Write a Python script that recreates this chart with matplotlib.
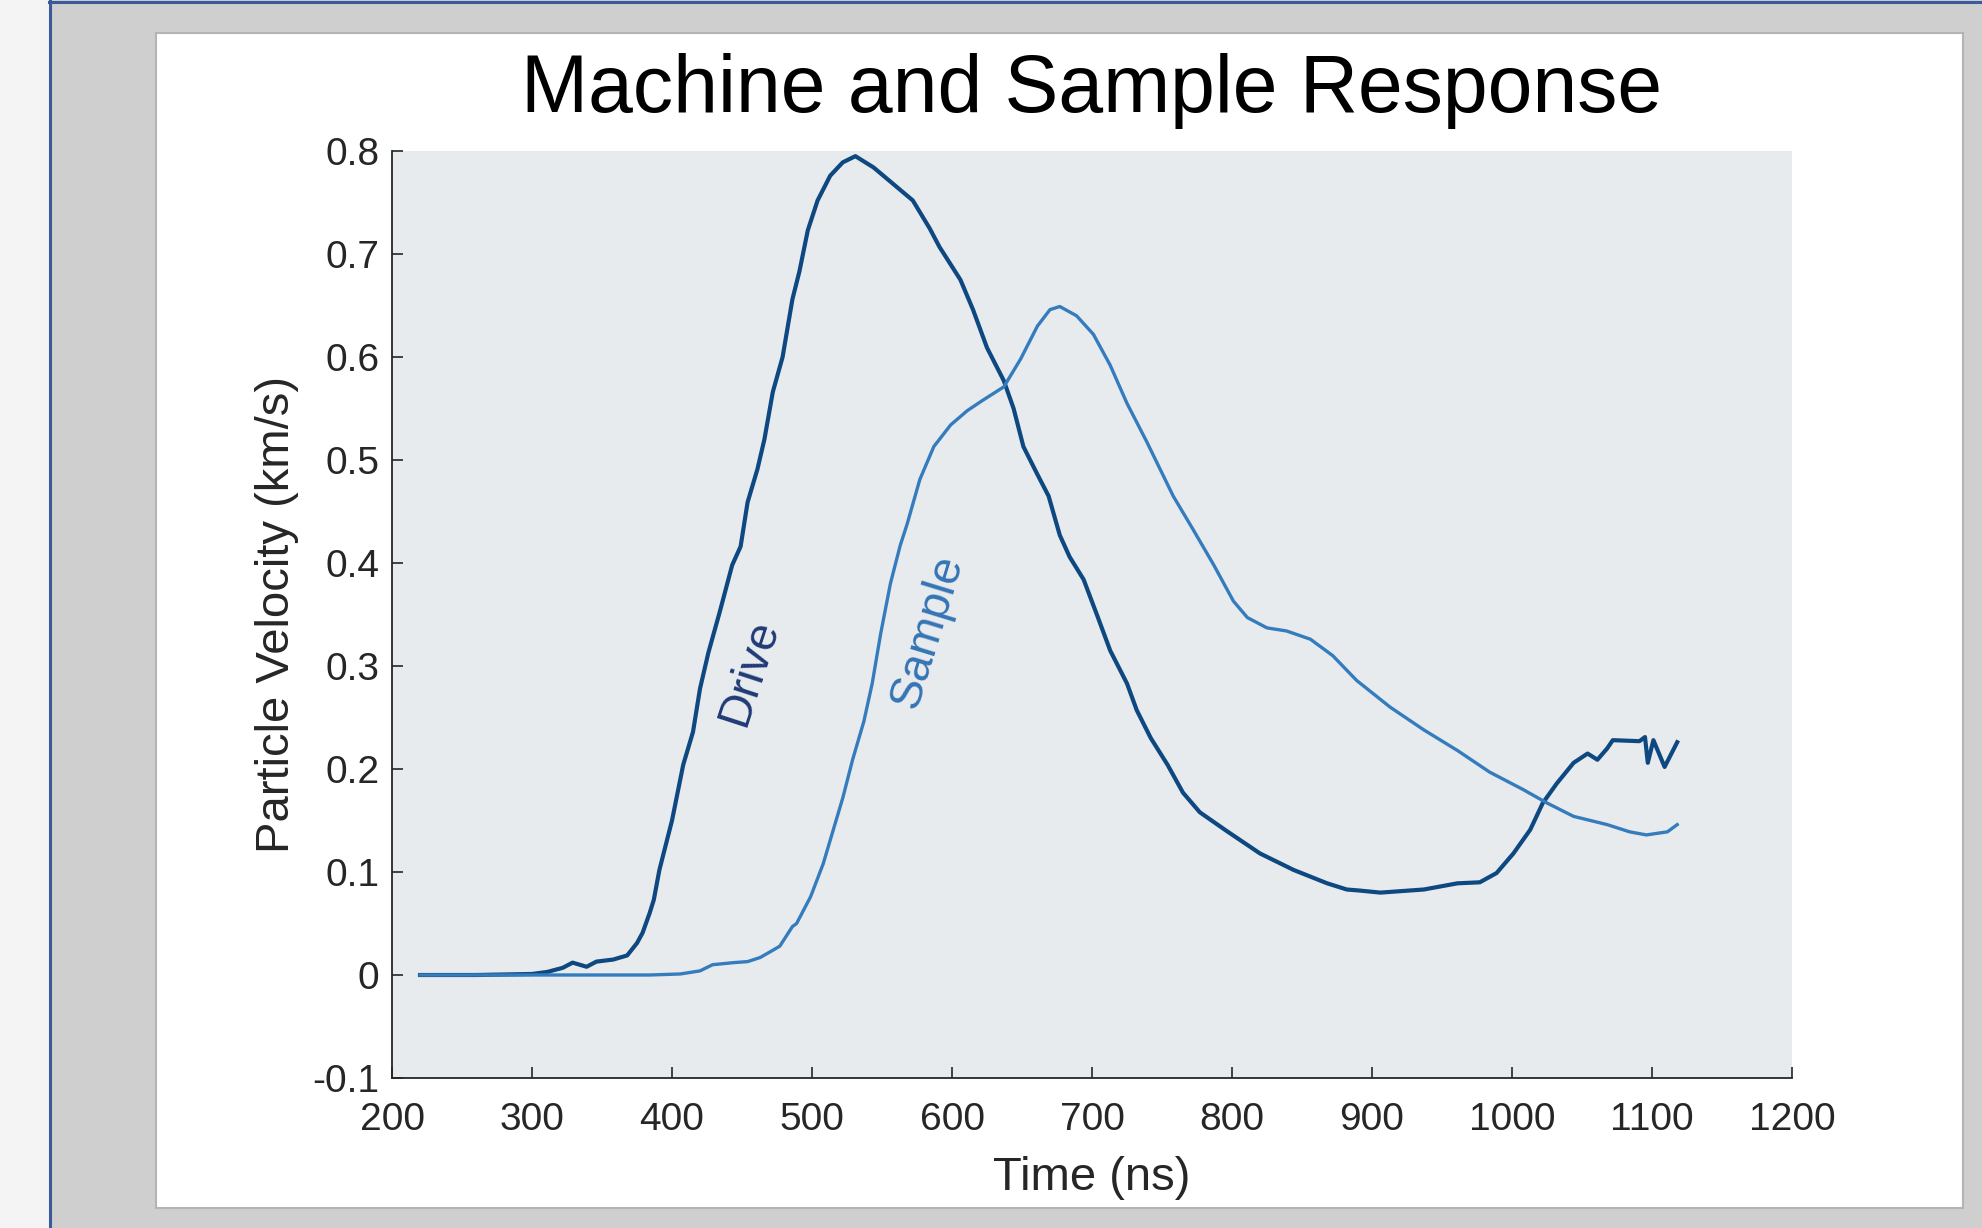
import matplotlib
matplotlib.use("Agg")
import matplotlib.pyplot as plt
from matplotlib.patches import Rectangle
from matplotlib.lines import Line2D


# --- DATA ---
# Drive (machine) response: time in ns, particle velocity in km/s
drive_t = [220, 260, 300, 311, 322, 329, 339, 346, 358, 368, 375, 379, 384,
           387, 391, 400, 408, 415, 420, 426, 434, 443, 449, 454, 461, 466,
           472, 479, 486, 491, 497, 504, 513, 522, 531, 544, 558, 572, 584,
           591, 606, 615, 625, 637, 644, 651, 661, 669, 677, 684, 694, 704,
           713, 725, 732, 742, 754, 765, 777, 796, 820, 844, 868, 882, 891,
           906, 937, 961, 977, 989, 1001, 1013, 1022, 1032, 1044, 1054, 1061,
           1068, 1072, 1091, 1095, 1097, 1101, 1109, 1118]
drive_v = [0.000, 0.000, 0.001, 0.003, 0.007, 0.012, 0.008, 0.013, 0.015,
           0.019, 0.031, 0.041, 0.060, 0.073, 0.102, 0.150, 0.204, 0.236,
           0.278, 0.313, 0.352, 0.398, 0.416, 0.459, 0.491, 0.520, 0.566,
           0.600, 0.656, 0.683, 0.723, 0.752, 0.776, 0.789, 0.795, 0.784,
           0.768, 0.752, 0.725, 0.707, 0.675, 0.646, 0.609, 0.577, 0.550,
           0.513, 0.486, 0.465, 0.427, 0.406, 0.384, 0.348, 0.315, 0.283,
           0.257, 0.230, 0.204, 0.177, 0.158, 0.140, 0.118, 0.102, 0.089,
           0.083, 0.082, 0.080, 0.083, 0.089, 0.090, 0.099, 0.118, 0.141,
           0.167, 0.186, 0.206, 0.215, 0.209, 0.220, 0.228, 0.227, 0.231,
           0.206, 0.228, 0.202, 0.226]

# Sample response
sample_t = [220, 300, 350, 384, 406, 420, 429, 444, 454, 463, 472, 477, 486,
            489, 499, 508, 515, 522, 529, 537, 543, 549, 556, 563, 568, 577,
            587, 599, 611, 622, 637, 649, 661, 670, 677, 689, 701, 713, 725,
            739, 758, 772, 787, 801, 811, 825, 839, 856, 872, 889, 913, 937,
            961, 984, 1008, 1025, 1044, 1068, 1084, 1096, 1111, 1118]
sample_v = [0.000, 0.000, 0.000, 0.000, 0.001, 0.004, 0.010, 0.012, 0.013,
            0.017, 0.024, 0.028, 0.047, 0.050, 0.076, 0.108, 0.140, 0.172,
            0.209, 0.246, 0.283, 0.331, 0.380, 0.417, 0.438, 0.481, 0.513,
            0.534, 0.548, 0.558, 0.571, 0.598, 0.630, 0.646, 0.649, 0.640,
            0.622, 0.592, 0.555, 0.518, 0.465, 0.433, 0.398, 0.363, 0.347,
            0.337, 0.334, 0.326, 0.310, 0.286, 0.260, 0.238, 0.218, 0.197,
            0.180, 0.167, 0.154, 0.146, 0.139, 0.136, 0.139, 0.146]

x_ticks = [200, 300, 400, 500, 600, 700, 800, 900, 1000, 1100, 1200]
y_ticks = [-0.1, 0, 0.1, 0.2, 0.3, 0.4, 0.5, 0.6, 0.7, 0.8]
y_tick_labels = ["-0.1", "0", "0.1", "0.2", "0.3", "0.4", "0.5", "0.6",
                 "0.7", "0.8"]


# --- CONSTANTS ---
W, H = 1982, 1228
DPI = 100
DRIVE_COLOR = "#0e4880"
SAMPLE_COLOR = "#347cbd"
AXIS_COLOR = "#262626"

plt.rcParams["font.family"] = ["Liberation Sans", "DejaVu Sans"]


# pixel helpers for the window frame around the figure
def fx(px):
    return px / W


def fy(py):
    return 1 - py / H


fig = plt.figure(figsize=(W / DPI, H / DPI), dpi=DPI, facecolor="#d0cfd0")

# light strip at the left and the blue window border (drawn behind the axes)
fig.add_artist(Rectangle((0, 0), fx(49), 1, transform=fig.transFigure,
                         facecolor="#f4f4f4", edgecolor="none", zorder=-3))
fig.add_artist(Line2D([fx(49.5), fx(49.5)], [0, 1], transform=fig.transFigure,
                      color="#3a5a9c", lw=2.2, zorder=-2))
fig.add_artist(Line2D([fx(49), 1], [fy(2), fy(2)], transform=fig.transFigure,
                      color="#3a5a9c", lw=2.2, zorder=-2))
# white figure panel
fig.add_artist(Rectangle((fx(156), fy(1208)), fx(1963) - fx(156),
                         fy(33) - fy(1208), transform=fig.transFigure,
                         facecolor="white", edgecolor="#b4b4b4", lw=1.5,
                         zorder=-2))

# axes box in pixels: x 392..1792, y 151..1078
ax = fig.add_axes([fx(392), fy(1078), fx(1792) - fx(392), fy(151) - fy(1078)])
ax.set_facecolor("#e8ebee")

ax.plot(drive_t, drive_v, color=DRIVE_COLOR, lw=3.0)
ax.plot(sample_t, sample_v, color=SAMPLE_COLOR, lw=2.4)

ax.text(455, 0.294, "Drive", color="#1f3a76", fontsize=33.5, rotation=72,
        ha="center", va="center", rotation_mode="anchor")
ax.text(583, 0.334, "Sample", color="#3575b5", fontsize=33.5, rotation=73,
        ha="center", va="center", rotation_mode="anchor")

ax.set_xlim(200, 1200)
ax.set_ylim(-0.1, 0.8)
ax.set_xticks(x_ticks)
ax.set_yticks(y_ticks)
ax.set_yticklabels(y_tick_labels)

for side in ["top", "right"]:
    ax.spines[side].set_visible(False)
for side in ["left", "bottom"]:
    ax.spines[side].set_color(AXIS_COLOR)
    ax.spines[side].set_linewidth(1.3)

ax.tick_params(direction="in", length=8, width=1.2, colors=AXIS_COLOR,
               labelsize=28)
ax.tick_params(axis="x", pad=17)
ax.tick_params(axis="y", pad=9)

ax.set_title("Machine and Sample Response", fontsize=58, pad=28,
             color="black")
ax.set_xlabel("Time (ns)", fontsize=34, color=AXIS_COLOR, va="center")
ax.xaxis.set_label_coords(0.5, -0.108)
ax.set_ylabel("Particle Velocity (km/s)", fontsize=34, color=AXIS_COLOR,
              va="center")
ax.yaxis.set_label_coords(-0.082, 0.5)

fig.savefig("out.png", dpi=DPI, facecolor=fig.get_facecolor())
